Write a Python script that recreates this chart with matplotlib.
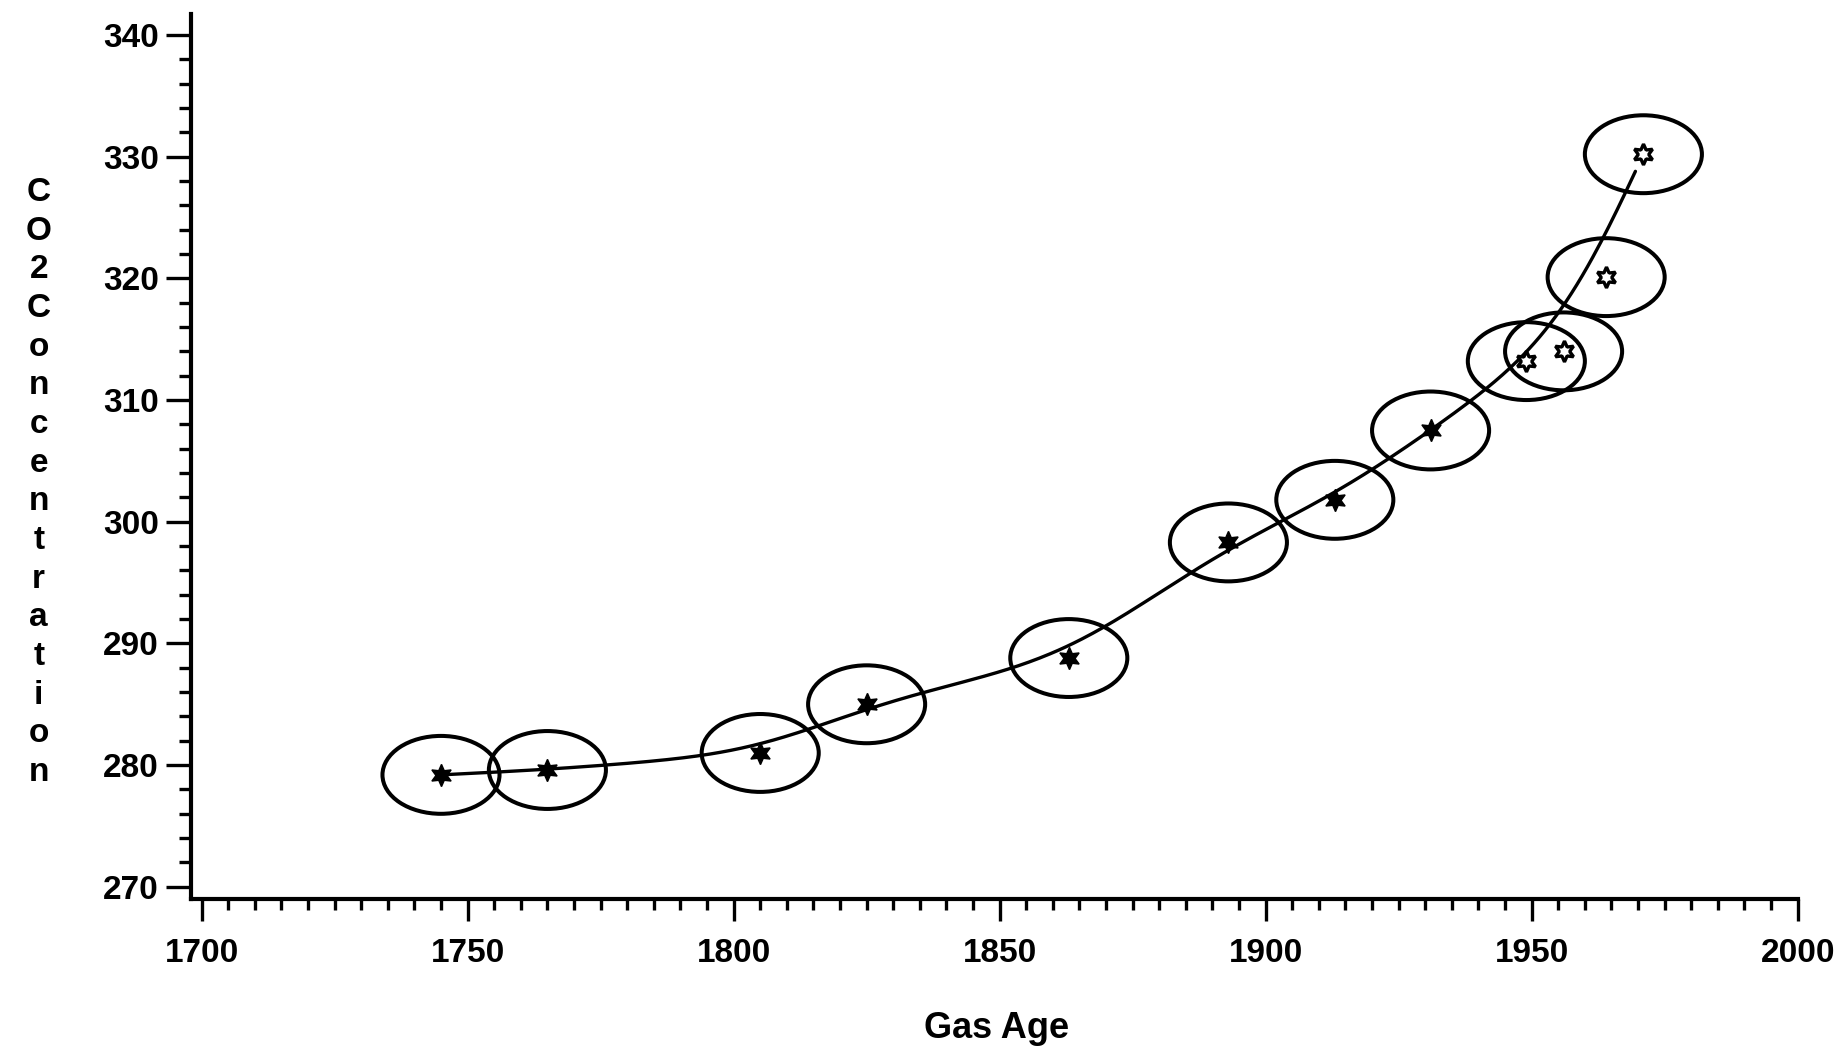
import numpy as np
import matplotlib
matplotlib.use('Agg')
import matplotlib.pyplot as plt
from matplotlib.patches import Ellipse
from matplotlib.ticker import MultipleLocator

# gas age (years) and CO2 concentration (ppm)
gas_age = [1745, 1765, 1805, 1825, 1863, 1893, 1913, 1931, 1949, 1956, 1964, 1971]
co2 = [279.2, 279.6, 281.0, 285.0, 288.8, 298.3, 301.8, 307.5, 313.2, 314.0, 320.1, 330.2]

x_ticks = [1700, 1750, 1800, 1850, 1900, 1950, 2000]
y_ticks = [270, 280, 290, 300, 310, 320, 330, 340]

ell_w = 22.0   # years
ell_h = 6.4    # ppm
lw = 2.4

plt.rcParams['font.family'] = ['Liberation Sans', 'DejaVu Sans']
plt.rcParams['font.weight'] = 'bold'

fig = plt.figure(figsize=(18.43, 10.49), dpi=100)
ax = fig.add_axes([0.1036, 0.143, 0.8747, 0.8434])

xa = np.array(gas_age, dtype=float)
ya = np.array(co2, dtype=float)

# smooth curve: linear interpolation on a fine grid, then a gaussian running mean
step = 0.5
xx = np.arange(xa[0], xa[-1] + step / 2, step)
yl = np.interp(xx, xa, ya)
sig = 12.0 / step
k = np.arange(-int(4 * sig), int(4 * sig) + 1)
g = np.exp(-0.5 * (k / sig) ** 2)
g /= g.sum()
n = len(k) // 2
# odd reflection at both ends keeps the end slopes
pad_l = 2 * yl[0] - yl[1:n + 1][::-1]
pad_r = 2 * yl[-1] - yl[-n - 1:-1][::-1]
ys = np.convolve(np.concatenate([pad_l, yl, pad_r]), g, mode='valid')
keep = xx <= xa[-1] - 1.5
ax.plot(xx[keep], ys[keep], color='black', lw=lw, solid_capstyle='round', zorder=2)

for x, y in zip(gas_age, co2):
    ax.add_patch(Ellipse((x, y), ell_w, ell_h, fill=False, ec='black', lw=2.9, zorder=3))

ax.plot(xa[:8], ya[:8], ls='none', marker=(6, 1, 0), ms=16, color='black', zorder=4)
ax.plot(xa[8:], ya[8:], ls='none', marker=(6, 1, 0), ms=15, mfc='white', mec='black',
        mew=2.4, zorder=4)

ax.set_xlim(1698, 2001)
ax.set_ylim(269, 341.7)

ax.spines['top'].set_visible(False)
ax.spines['right'].set_visible(False)
ax.spines['left'].set_linewidth(3)
ax.spines['bottom'].set_linewidth(3)
ax.spines['bottom'].set_bounds(1698, 2000)

ax.set_xticks(x_ticks)
ax.set_yticks(y_ticks)
ax.xaxis.set_minor_locator(MultipleLocator(5))
ax.yaxis.set_minor_locator(MultipleLocator(2))
ax.tick_params(axis='both', which='major', direction='out', width=2.4, colors='black')
ax.tick_params(axis='x', which='major', length=16, pad=12, labelsize=24)
ax.tick_params(axis='y', which='major', length=18, pad=5, labelsize=24)
ax.tick_params(axis='x', which='minor', direction='out', length=8, width=2.4)
ax.tick_params(axis='y', which='minor', direction='out', length=9, width=2.4)
for lab in ax.get_xticklabels() + ax.get_yticklabels():
    lab.set_fontweight('bold')

ax.set_xlabel('Gas Age', fontsize=26, fontweight='bold', labelpad=30)

ylab = '\n'.join(list('CO2Concentration'))
fig.text(0.021, 0.54, ylab, fontsize=24, fontweight='bold', ha='center', va='center',
         linespacing=1.32)

fig.savefig('out.png', dpi=100, facecolor='white')
